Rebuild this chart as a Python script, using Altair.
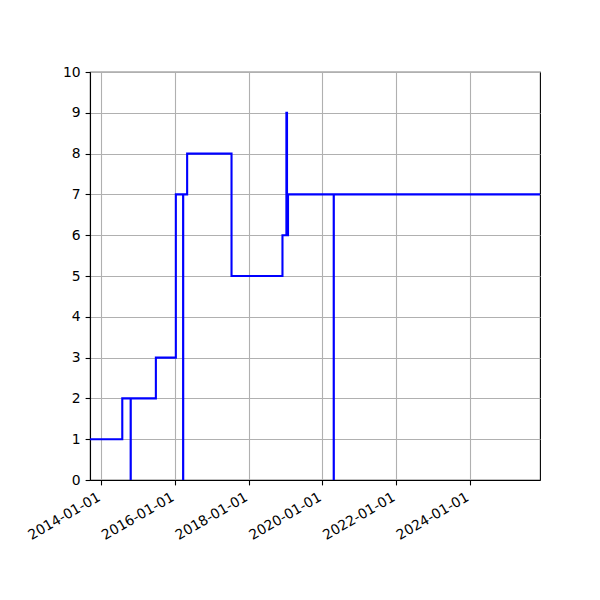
import altair as alt
import pandas as pd

dates = ["2013-09-10", "2014-07-27", "2014-10-18", "2014-10-19", "2015-06-25",
         "2016-01-09", "2016-03-21", "2016-03-22", "2016-04-30", "2017-07-14",
         "2018-12-01", "2019-01-09", "2019-01-15", "2019-01-25", "2020-04-22",
         "2020-04-23", "2025-11-27"]
values = [1, 2, 0, 2, 3, 7, 0, 7, 8, 5, 6, 9, 6, 7, 0, 7, 7]

tick_years = [2014, 2016, 2018, 2020, 2022, 2024]
y_ticks = list(range(0, 11))

df = pd.DataFrame({"date": dates, "value": values})

x_ticks = [alt.DateTime(year=y, month=1, date=1, utc=True) for y in tick_years]

chart = alt.Chart(df).mark_line(
    interpolate="step-after", color="#0000ff", strokeWidth=2.1, clip=True
).encode(
    x=alt.X("date:T",
            scale=alt.Scale(type="utc",
                            domain=[alt.DateTime(year=2013, month=9, date=10, utc=True),
                                    alt.DateTime(year=2025, month=11, date=27, utc=True)]),
            axis=alt.Axis(values=x_ticks,
                          labelExpr="utcFormat(datum.value, '%Y-%m-%d')",
                          labelAngle=330, labelAlign="right", labelBaseline="top",
                          labelOffset=-6, labelOverlap=False, labelBound=False,
                          title=None)),
    y=alt.Y("value:Q", scale=alt.Scale(domain=[0, 10], nice=False, zero=True),
            axis=alt.Axis(values=y_ticks, title=None)),
).properties(
    width=450, height=408,
    autosize=alt.AutoSizeParams(type="none"),
    padding={"left": 82, "top": 64, "right": 52, "bottom": 112},
).configure_view(
    stroke="black", strokeWidth=1.1
).configure_axis(
    domainColor="black", domainWidth=1.1,
    tickColor="black", tickWidth=1.1, tickSize=4.9,
    labelPadding=4.9, labelFont="DejaVu Sans", labelFontSize=13.9,
    labelColor="black",
    grid=True, gridColor="#b0b0b0", gridWidth=1.1,
)

chart.save("out.html", embed_options={"renderer": "svg", "actions": False})
